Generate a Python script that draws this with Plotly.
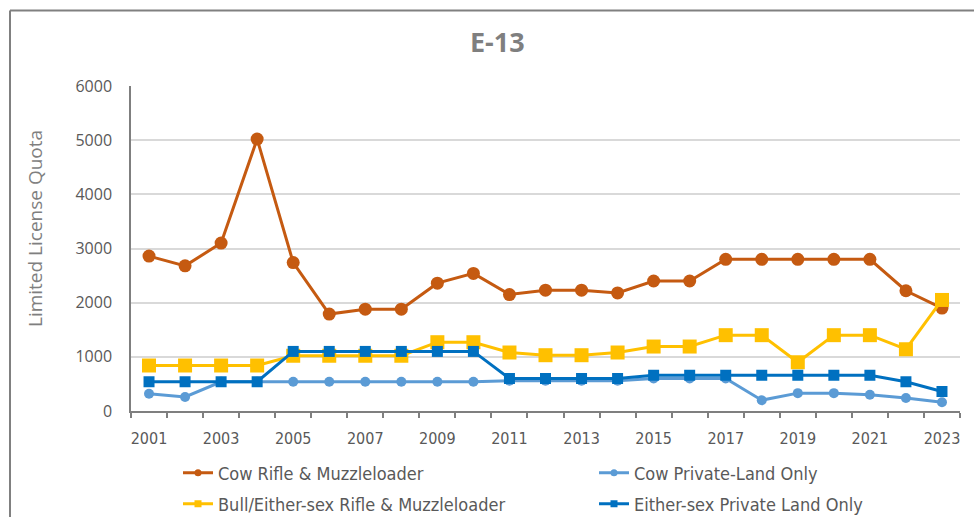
import plotly.graph_objects as go

# Limited license quotas for hunt area E-13, 2001-2023
years = list(range(2001, 2024))
cow_rifle = [2860, 2680, 3100, 5020, 2740, 1790, 1880, 1880, 2360, 2540, 2150, 2230,
             2230, 2180, 2400, 2400, 2800, 2800, 2800, 2800, 2800, 2220, 1900]
cow_private = [320, 260, 540, 540, 540, 540, 540, 540, 540, 540, 560, 560,
               560, 560, 600, 600, 600, 200, 330, 330, 300, 240, 160]
bull_either = [840, 840, 840, 840, 1020, 1020, 1020, 1020, 1270, 1270, 1080, 1030,
               1030, 1080, 1190, 1190, 1400, 1400, 900, 1400, 1400, 1140, 2050]
either_private = [540, 540, 540, 540, 1100, 1100, 1100, 1100, 1100, 1100, 600, 600,
                  600, 600, 660, 660, 660, 660, 660, 660, 660, 540, 360]
xtick_years = list(range(2001, 2024, 2))

L, R, T, B = 131, 14, 86, 106
W, H = 974, 517
pw, ph = W - L - R, H - T - B


def px_x(p):
    return (p - L) / pw


def px_y(p):
    return (H - B - p) / ph


# name, values, colour, symbol, marker size, legend id, legend pixel position
series = [
    ("Cow Rifle & Muzzleloader", cow_rifle, "#C55A11", "circle", 13, "legend", (178, 473)),
    ("Cow Private-Land Only", cow_private, "#5B9BD5", "circle", 10, "legend2", (594, 473)),
    ("Bull/Either-sex Rifle & Muzzleloader", bull_either, "#FFC000", "square", 14, "legend3", (178, 504)),
    ("Either-sex Private Land Only", either_private, "#0070C0", "square", 11, "legend4", (594, 504)),
]

fig = go.Figure()
for name, vals, color, sym, size, leg, pos in series:
    fig.add_trace(go.Scatter(
        x=years, y=vals, name=name, mode="lines+markers",
        line=dict(color=color, width=3),
        marker=dict(symbol=sym, size=size, color=color),
        showlegend=False,
    ))
# legend entries with small markers
for name, vals, color, sym, size, leg, pos in series:
    fig.add_trace(go.Scatter(
        x=[None], y=[None], name=name, mode="lines+markers",
        line=dict(color=color, width=3),
        marker=dict(symbol=sym, size=7, color=color),
        legend=leg, showlegend=True,
    ))

axis_col = "#7F7F7F"
text_col = "#595959"

legends = {}
for name, vals, color, sym, size, leg, pos in series:
    legends[leg] = dict(
        orientation="h", x=px_x(pos[0]), y=px_y(pos[1]),
        xanchor="left", yanchor="middle",
        font=dict(family="DejaVu Sans Condensed", size=18, color=text_col),
        bgcolor="rgba(0,0,0,0)",
    )

fig.update_layout(
    width=W, height=H,
    margin=dict(l=L, r=R, t=T, b=B, autoexpand=False),
    paper_bgcolor="white", plot_bgcolor="white",
    xaxis=dict(
        range=[2000.5, 2023.5],
        tickmode="array", tickvals=xtick_years,
        ticktext=[str(y) for y in xtick_years],
        ticks="", showgrid=False, zeroline=False,
        showline=True, linecolor=axis_col, linewidth=1.5,
        tickfont=dict(family="DejaVu Sans Condensed", size=16, color=text_col),
        ticklabelstandoff=12,
        minor=dict(tickmode="linear", tick0=2000.5, dtick=1, ticks="outside",
                   ticklen=5, tickcolor=axis_col, tickwidth=1.5, showgrid=False),
    ),
    yaxis=dict(
        range=[0, 6000], dtick=1000, ticks="",
        showgrid=True, gridcolor="#D9D9D9", gridwidth=1.5, zeroline=False,
        showline=True, linecolor=axis_col, linewidth=1.5,
        tickfont=dict(family="Open Sans", size=16, color=text_col),
        ticklabelstandoff=14,
    ),
    annotations=[
        dict(text="<b>E-13</b>", x=px_x(497), y=px_y(42), xref="paper", yref="paper",
             xanchor="center", yanchor="middle", showarrow=False,
             font=dict(family="Open Sans", size=27, color="#7F7F7F")),
        dict(text="Limited License Quota", x=px_x(35), y=px_y(229), xref="paper", yref="paper",
             xanchor="center", yanchor="middle", textangle=-90, showarrow=False,
             font=dict(family="Open Sans", size=19, color="#7F7F7F")),
    ],
    shapes=[
        dict(type="line", xref="paper", yref="paper",
             x0=px_x(10), x1=px_x(10), y0=px_y(10.5), y1=px_y(530),
             line=dict(color="#808080", width=2)),
        dict(type="line", xref="paper", yref="paper",
             x0=px_x(10), x1=px_x(990), y0=px_y(10.5), y1=px_y(10.5),
             line=dict(color="#808080", width=2)),
    ],
    **legends,
)

fig.write_html("out.html")
